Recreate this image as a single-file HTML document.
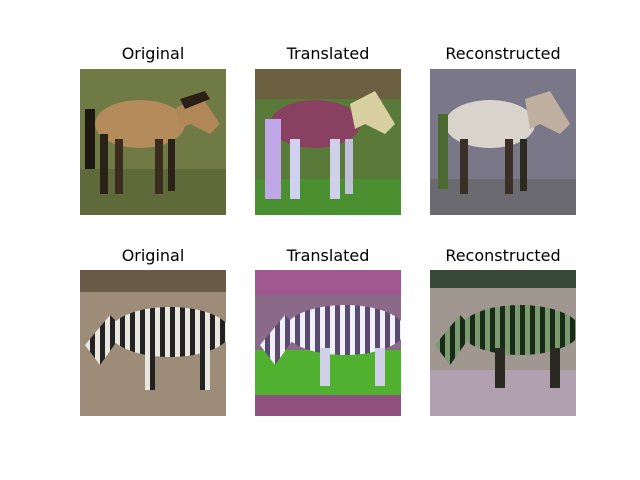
<!DOCTYPE html>
<html><head><meta charset="utf-8"><style>
body{margin:0;background:#fff;width:640px;height:480px;position:relative;overflow:hidden;font-family:"DejaVu Sans","Liberation Sans",sans-serif}
.t{position:absolute;width:146px;text-align:center;font-size:16px;color:#000}
svg{position:absolute}
</style></head><body>
<div class="t" style="left:80px;top:44px">Original</div>
<div class="t" style="left:255px;top:44px">Translated</div>
<div class="t" style="left:430px;top:44px">Reconstructed</div>
<div class="t" style="left:80px;top:246px">Original</div>
<div class="t" style="left:255px;top:246px">Translated</div>
<div class="t" style="left:430px;top:246px">Reconstructed</div>

<!-- Horse original -->
<svg style="left:80px;top:69px" width="146" height="146">
<rect width="146" height="146" fill="#6f7a45"/>
<rect y="100" width="146" height="46" fill="#5f6a3a"/>
<ellipse cx="60" cy="55" rx="45" ry="24" fill="#b48c5c"/>
<polygon points="95,40 120,25 140,55 130,65 110,55 100,60" fill="#b08858"/>
<polygon points="100,30 125,22 130,30 105,40" fill="#2a2018"/>
<rect x="20" y="65" width="8" height="60" fill="#2a2218"/>
<rect x="35" y="70" width="8" height="55" fill="#3a2c1e"/>
<rect x="75" y="70" width="8" height="55" fill="#3a2c1e"/>
<rect x="88" y="70" width="7" height="52" fill="#2a2218"/>
<rect x="5" y="40" width="10" height="60" fill="#1e1812"/>
</svg>

<!-- Horse translated -->
<svg style="left:255px;top:69px" width="146" height="146">
<rect width="146" height="146" fill="#5a7a3a"/>
<rect y="0" width="146" height="30" fill="#6a6040"/>
<rect y="110" width="146" height="36" fill="#4a9030"/>
<ellipse cx="60" cy="55" rx="45" ry="24" fill="#8a4060"/>
<polygon points="95,35 120,22 140,55 130,65 110,55 100,60" fill="#d8d0a0"/>
<rect x="10" y="50" width="16" height="80" fill="#c0a8e8"/>
<rect x="35" y="70" width="10" height="60" fill="#d0d0f0"/>
<rect x="75" y="70" width="10" height="60" fill="#d0d0e8"/>
<rect x="90" y="70" width="8" height="55" fill="#c0c0d8"/>
</svg>

<!-- Horse reconstructed -->
<svg style="left:430px;top:69px" width="146" height="146">
<rect width="146" height="146" fill="#7a7888"/>
<rect y="110" width="146" height="36" fill="#6a6a70"/>
<ellipse cx="60" cy="55" rx="45" ry="24" fill="#d8d4cc"/>
<polygon points="95,30 120,22 140,55 130,65 110,55 100,60" fill="#c0b0a0"/>
<rect x="8" y="45" width="10" height="75" fill="#4a6a30"/>
<rect x="30" y="70" width="8" height="55" fill="#3a3028"/>
<rect x="75" y="70" width="8" height="55" fill="#3a3028"/>
<rect x="90" y="70" width="7" height="52" fill="#2a2a20"/>
</svg>

<!-- Zebra original -->
<svg style="left:80px;top:270px" width="146" height="146">
<defs><pattern id="s1" width="10" height="10" patternUnits="userSpaceOnUse"><rect width="5" height="10" fill="#222"/><rect x="5" width="5" height="10" fill="#e8e8e0"/></pattern></defs>
<rect width="146" height="146" fill="#9c8c78"/>
<rect width="146" height="22" fill="#6a5a48"/>
<ellipse cx="90" cy="62" rx="60" ry="25" fill="url(#s1)"/>
<polygon points="5,75 30,45 45,60 20,95" fill="url(#s1)"/>
<rect x="65" y="80" width="10" height="40" fill="url(#s1)"/>
<rect x="120" y="80" width="10" height="40" fill="url(#s1)"/>
</svg>

<!-- Zebra translated -->
<svg style="left:255px;top:270px" width="146" height="146">
<defs><pattern id="s2" width="10" height="10" patternUnits="userSpaceOnUse"><rect width="5" height="10" fill="#5a4a70"/><rect x="5" width="5" height="10" fill="#f0f0f8"/></pattern></defs>
<rect width="146" height="146" fill="#8a6a88"/>
<rect width="146" height="25" fill="#a05890"/>
<rect y="80" width="146" height="45" fill="#50b030"/>
<rect y="125" width="146" height="21" fill="#905080"/>
<ellipse cx="90" cy="60" rx="60" ry="25" fill="url(#s2)"/>
<polygon points="5,75 30,45 45,60 20,95" fill="url(#s2)"/>
<rect x="65" y="78" width="10" height="38" fill="#d0d0e8"/>
<rect x="120" y="78" width="10" height="38" fill="#d0d0e8"/>
</svg>

<!-- Zebra reconstructed -->
<svg style="left:430px;top:270px" width="146" height="146">
<defs><pattern id="s3" width="10" height="10" patternUnits="userSpaceOnUse"><rect width="5" height="10" fill="#1a2a18"/><rect x="5" width="5" height="10" fill="#7a9a70"/></pattern></defs>
<rect width="146" height="146" fill="#a09890"/>
<rect width="146" height="18" fill="#3a4a38"/>
<rect y="100" width="146" height="46" fill="#b0a0b0"/>
<ellipse cx="90" cy="60" rx="60" ry="25" fill="url(#s3)"/>
<polygon points="5,75 30,45 45,60 20,95" fill="url(#s3)"/>
<rect x="65" y="78" width="10" height="40" fill="#2a2a22"/>
<rect x="120" y="78" width="10" height="40" fill="#2a2a22"/>
</svg>
</body></html>
